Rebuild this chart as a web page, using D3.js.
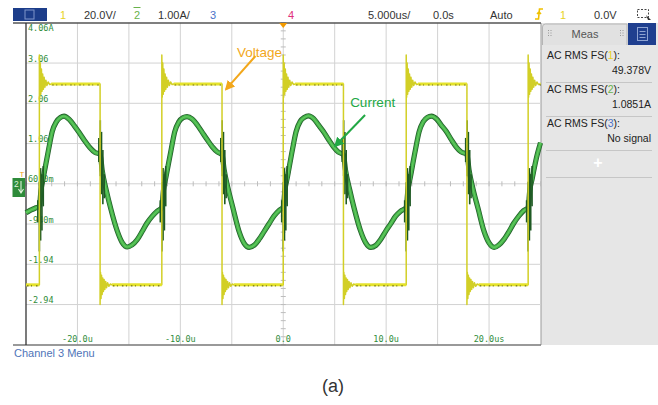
<!DOCTYPE html>
<html>
<head>
<meta charset="utf-8">
<script src="https://cdn.jsdelivr.net/npm/d3@7/dist/d3.min.js"></script>
<style>
  html, body { margin: 0; padding: 0; background: #fff; }
  svg { display: block; }
  text { font-family: "Liberation Sans", Arial, sans-serif; }
  .mono { font-family: "DejaVu Sans Mono", monospace; }
</style>
</head>
<body>
<svg id="scope" width="658" height="405"></svg>
<script>
// ---- scope settings and readouts ----
const timeGrid = [-25, -20, -15, -10, -5, 0, 5, 10, 15, 20, 25];          // µs, 5 µs/div
const timeTicks = [-20, -10, 0, 10, 20];
const timeLabels = ["-20.0u", "-10.0u", "0.0", "10.0u", "20.0us"];
const currentGrid = [-3.94, -2.94, -1.94, -0.94, 0.06, 1.06, 2.06, 3.06, 4.06]; // A, 1 A/div
const currentTicks = [4.06, 3.06, 2.06, 1.06, 0.06, -0.94, -1.94, -2.94];
const currentLabels = ["4.06A", "3.06", "2.06", "1.06", "60.0m", "-940m", "-1.94", "-2.94"];

const measNames = ["AC RMS FS(", "AC RMS FS(", "AC RMS FS("];
const measChannels = ["1", "2", "3"];
const measValues = ["49.378V", "1.0851A", "No signal"];

// ---- channel 1: voltage (V) ----
const risingEdges = [-23.7, -11.8, 0.0, 11.95, 23.8];
const fallingEdges = [-17.8, -5.95, 5.85, 17.85];
const voltageHigh = 49.6;
const voltageLow = -50.2;
// ringing after each edge: [µs after edge, V]
const riseRinging = [[0, 64], [0.04, 43], [0.09, 60], [0.14, 44.5], [0.2, 57], [0.26, 46], [0.32, 54.5],
  [0.39, 47], [0.46, 53], [0.54, 48], [0.63, 51.5], [0.73, 48.8], [0.85, 50.6], [1.0, 49.3], [1.15, 49.6]];
const fallRinging = [[0, -60], [0.04, -44], [0.09, -57], [0.14, -45.5], [0.2, -55], [0.26, -46.8], [0.32, -53.5],
  [0.39, -47.6], [0.46, -52.5], [0.54, -48.5], [0.63, -51.6], [0.73, -49.2], [0.85, -50.9], [1.0, -49.8], [1.15, -50.2]];

// ---- channel 2: current (A) ----
const currentTrace = [
  [-25.0, -0.66], [-24.6, -0.6], [-24.15, -0.55], [-23.7, -0.49],
  [-23.55, -0.12], [-23.3, 0.24], [-22.8, 0.92], [-22.45, 1.36], [-22.05, 1.6], [-21.65, 1.71], [-21.3, 1.74],
  [-20.8, 1.66], [-20.3, 1.5], [-19.8, 1.32], [-19.3, 1.13], [-18.8, 0.96], [-18.3, 0.84], [-17.8, 0.8],
  [-17.6, 0.4], [-17.2, -0.1], [-16.75, -0.57], [-16.15, -1.1], [-15.65, -1.4], [-15.15, -1.51], [-14.7, -1.46],
  [-14.2, -1.33], [-13.7, -1.12], [-13.25, -0.92], [-12.75, -0.75], [-12.25, -0.62], [-11.8, -0.53],
  [-11.65, -0.12], [-11.4, 0.23], [-10.9, 0.9], [-10.55, 1.35], [-10.15, 1.6], [-9.75, 1.7], [-9.35, 1.73],
  [-8.85, 1.67], [-8.35, 1.52], [-7.9, 1.35], [-7.4, 1.16], [-6.9, 0.98], [-6.4, 0.85], [-5.95, 0.79],
  [-5.75, 0.42], [-5.35, -0.07], [-4.85, -0.58], [-4.3, -1.12], [-3.8, -1.42], [-3.3, -1.52], [-2.8, -1.46],
  [-2.35, -1.32], [-1.85, -1.12], [-1.35, -0.92], [-0.9, -0.74], [-0.4, -0.6], [0.0, -0.52],
  [0.15, -0.12], [0.4, 0.22], [0.9, 0.92], [1.25, 1.36], [1.65, 1.61], [2.05, 1.71], [2.45, 1.75],
  [2.95, 1.68], [3.4, 1.53], [3.9, 1.36], [4.4, 1.16], [4.85, 0.99], [5.35, 0.85], [5.85, 0.78],
  [6.05, 0.4], [6.45, -0.08], [6.9, -0.56], [7.5, -1.1], [8.0, -1.4], [8.5, -1.52], [9.0, -1.47],
  [9.45, -1.33], [9.95, -1.12], [10.45, -0.93], [10.9, -0.75], [11.4, -0.62], [11.95, -0.53],
  [12.1, -0.13], [12.35, 0.22], [12.85, 0.91], [13.2, 1.35], [13.6, 1.6], [14.0, 1.71], [14.4, 1.74],
  [14.9, 1.67], [15.35, 1.52], [15.85, 1.36], [16.35, 1.15], [16.8, 0.98], [17.3, 0.85], [17.85, 0.79],
  [18.05, 0.41], [18.45, -0.08], [18.95, -0.57], [19.5, -1.11], [20.0, -1.41], [20.5, -1.52], [20.95, -1.46],
  [21.45, -1.32], [21.95, -1.12], [22.4, -0.92], [22.9, -0.74], [23.35, -0.61], [23.8, -0.53],
  [23.95, -0.12], [24.2, 0.2], [24.6, 0.7], [25.0, 1.08]
];
// switching spikes on the current: [µs from edge, low A, high A]
const riseSpikes = [[-0.15, -0.9, -0.35], [0.0, -1.62, 0.1], [0.12, -1.35, 0.45], [0.25, -1.1, 0.3], [0.38, -0.5, 0.5]];
const fallSpikes = [[-0.12, 0.6, 1.2], [0.02, 0.25, 1.64], [0.14, -0.2, 1.35], [0.27, -0.45, 0.9], [0.4, -0.3, 0.3]];

// ---- layout ----
const svg = d3.select("#scope");
const plot = { left: 26, right: 540.5, top: 22.8, bottom: 344.8 };
const x = d3.scaleLinear().domain([-25, 25]).range([plot.left, plot.right]);
const yI = d3.scaleLinear().domain([-3.94, 4.06]).range([plot.bottom, plot.top]);
const yV = d3.scaleLinear().domain([-80, 80]).range([plot.bottom, plot.top]);

// top status bar
svg.append("rect").attr("x", 13).attr("y", 8).attr("width", 34).attr("height", 13).attr("fill", "#1c3d8a");
svg.append("rect").attr("x", 25).attr("y", 10).attr("width", 9).attr("height", 9).attr("fill", "none")
  .attr("stroke", "#7f95c9").attr("stroke-width", 1);
const topItems = [
  { t: "1", x: 60, c: "#e8d21c" }, { t: "20.0V/", x: 84, c: "#333" },
  { t: "2", x: 134, c: "#69b24a" }, { t: "1.00A/", x: 158, c: "#333" },
  { t: "3", x: 210, c: "#4a72c8" }, { t: "4", x: 288, c: "#e0307a" },
  { t: "5.000us/", x: 368, c: "#333" }, { t: "0.0s", x: 433, c: "#333" },
  { t: "Auto", x: 490, c: "#333" }, { t: "1", x: 560, c: "#e8d21c" }, { t: "0.0V", x: 594, c: "#333" }
];
svg.selectAll("text.top").data(topItems).join("text").attr("class", "top")
  .attr("x", d => d.x).attr("y", 19).attr("font-size", 11).attr("fill", d => d.c).text(d => d.t);
svg.append("line").attr("x1", 133.5).attr("x2", 140.5).attr("y1", 7.5).attr("y2", 7.5)
  .attr("stroke", "#69b24a").attr("stroke-width", 1);
// trigger slope symbol
svg.append("path").attr("d", "M535,19 L538.5,19 L539.5,9 L543,9 M537,14 L539,12 L541,14")
  .attr("fill", "none").attr("stroke", "#f0c000").attr("stroke-width", 1.6);
// zoom-box icon
svg.append("rect").attr("x", 637.5).attr("y", 9.5).attr("width", 11).attr("height", 8)
  .attr("fill", "none").attr("stroke", "#444").attr("stroke-dasharray", "2,1.5");
svg.append("path").attr("d", "M646,15 L651,20 L648,20 Z").attr("fill", "#333");

// right measurement panel
svg.append("rect").attr("x", 541).attr("y", 23).attr("width", 117).attr("height", 322).attr("fill", "#e6e6e6");
svg.append("path").attr("d", "M542.5,45 L542.5,27 Q542.5,24 545.5,24 L627,24 L627,45")
  .attr("fill", "#e1e1e1").attr("stroke", "#b5b5b5");
svg.append("text").attr("x", 585).attr("y", 38).attr("text-anchor", "middle").attr("font-size", 11)
  .attr("fill", "#555").text("Meas");
[548, 620].forEach(gx => {
  [[0, 0], [2.5, 0], [0, 2.5], [2.5, 2.5], [0, 5], [2.5, 5]].forEach(o => {
    svg.append("rect").attr("x", gx + o[0]).attr("y", 30 + o[1]).attr("width", 1).attr("height", 1).attr("fill", "#999");
  });
});
svg.append("rect").attr("x", 628).attr("y", 23).attr("width", 28).attr("height", 22).attr("fill", "#1f3f8f");
svg.append("rect").attr("x", 637.5).attr("y", 27.5).attr("width", 10).attr("height", 13).attr("fill", "none")
  .attr("stroke", "#8ea3d2");
[31, 34, 37].forEach(ly => svg.append("line").attr("x1", 639.5).attr("x2", 645.5).attr("y1", ly + 0.5).attr("y2", ly + 0.5)
  .attr("stroke", "#8ea3d2"));

const measColors = ["#e8d21c", "#69b24a", "#4a72c8"];
measNames.forEach((name, i) => {
  const top = 59 + i * 34;
  const t = svg.append("text").attr("x", 547).attr("y", top).attr("font-size", 10.5).attr("fill", "#222");
  t.append("tspan").text(name);
  t.append("tspan").attr("fill", measColors[i]).text(measChannels[i]);
  t.append("tspan").text("):");
  svg.append("text").attr("x", 651).attr("y", top + 15).attr("text-anchor", "end").attr("font-size", 10.5)
    .attr("fill", "#222").text(measValues[i]);
  svg.append("line").attr("x1", 546).attr("x2", 652).attr("y1", top + 23.5).attr("y2", top + 23.5)
    .attr("stroke", "#c6c6c6");
});
svg.append("text").attr("x", 598).attr("y", 168).attr("text-anchor", "middle").attr("font-size", 16)
  .attr("font-weight", "bold").attr("fill", "#fff").text("+");
svg.append("line").attr("x1", 546).attr("x2", 652).attr("y1", 177.5).attr("y2", 177.5).attr("stroke", "#c6c6c6");
svg.append("line").attr("x1", 541).attr("x2", 541).attr("y1", 23).attr("y2", 345).attr("stroke", "#9a9a9a");

// graticule
const g = svg.append("g");
g.selectAll("line.vg").data(timeGrid.slice(1, -1)).join("line").attr("class", "vg")
  .attr("x1", d => x(d)).attr("x2", d => x(d)).attr("y1", plot.top).attr("y2", plot.bottom)
  .attr("stroke", "#d2d2d2").attr("stroke-width", 1);
g.selectAll("line.hg").data(currentGrid.slice(1, -1)).join("line").attr("class", "hg")
  .attr("x1", plot.left).attr("x2", plot.right).attr("y1", d => yI(d)).attr("y2", d => yI(d))
  .attr("stroke", "#d2d2d2").attr("stroke-width", 1);
// minor ticks on the centre cross
const minorT = d3.range(-25, 25.001, 1.25);
g.selectAll("line.mt").data(minorT).join("line").attr("class", "mt")
  .attr("x1", d => x(d)).attr("x2", d => x(d)).attr("y1", yI(0.06) - 2.5).attr("y2", yI(0.06) + 2.5)
  .attr("stroke", "#bdbdbd");
const minorI = d3.range(-3.94, 4.061, 0.2);
g.selectAll("line.mi").data(minorI).join("line").attr("class", "mi")
  .attr("x1", x(0) - 2.5).attr("x2", x(0) + 2.5).attr("y1", d => yI(d)).attr("y2", d => yI(d))
  .attr("stroke", "#bdbdbd");

// axis readouts
g.selectAll("text.yl").data(currentTicks).join("text").attr("class", "yl mono")
  .attr("x", 28).attr("y", (d, i) => i === 0 ? yI(d) + 8.5 : yI(d) - 1.5)
  .attr("font-size", 8.5).attr("fill", "#2f8c3a").text((d, i) => currentLabels[i]);
g.selectAll("text.xl").data(timeTicks).join("text").attr("class", "xl mono")
  .attr("x", d => x(d)).attr("y", 341.5).attr("text-anchor", "middle")
  .attr("font-size", 8.5).attr("fill", "#2f8c3a").text((d, i) => timeLabels[i]);

// frame
svg.append("line").attr("x1", 13).attr("x2", 541).attr("y1", 23).attr("y2", 23).attr("stroke", "#555").attr("stroke-width", 1.3);
svg.append("line").attr("x1", 13).attr("x2", 541).attr("y1", 345).attr("y2", 345).attr("stroke", "#777").attr("stroke-width", 1.3);
svg.append("line").attr("x1", 26).attr("x2", 26).attr("y1", 23).attr("y2", 345).attr("stroke", "#333").attr("stroke-width", 1.3);

// trigger position and level markers
svg.append("path").attr("d", `M${x(0) - 4},23 L${x(0) + 4},23 L${x(0)},28 Z`).attr("fill", "#f29a00");
svg.append("text").attr("x", 19.5).attr("y", 177).attr("font-size", 8).attr("fill", "#f0a020").text("T");
svg.append("rect").attr("x", 12.5).attr("y", 178).attr("width", 12.5).attr("height", 19).attr("fill", "#2e8b3a");
svg.append("text").attr("x", 14).attr("y", 187).attr("font-size", 8.5).attr("fill", "#dff2da").text("2");
svg.append("path").attr("d", "M21,181 L21,192 M18.5,189 L21,193 L23.5,189").attr("fill", "none")
  .attr("stroke", "#dff2da").attr("stroke-width", 1.1);

// ---- traces ----
const traces = svg.append("g");
const line = d3.line().x(d => x(d[0])).y(d => yI(d[1])).curve(d3.curveMonotoneX);
traces.append("path").datum(currentTrace).attr("d", line).attr("fill", "none")
  .attr("stroke", "#24602a").attr("stroke-width", 5.2).attr("stroke-linejoin", "round");
traces.append("path").datum(currentTrace).attr("d", line).attr("fill", "none")
  .attr("stroke", "#45b34b").attr("stroke-width", 3.6).attr("stroke-linejoin", "round");
traces.append("path").datum(currentTrace).attr("d", line).attr("fill", "none")
  .attr("stroke", "#62c95d").attr("stroke-width", 1.2);

const spikes = [];
risingEdges.forEach(e => riseSpikes.forEach(s => spikes.push([e + s[0], s[1], s[2]])));
fallingEdges.forEach(e => fallSpikes.forEach(s => spikes.push([e + s[0], s[1], s[2]])));
traces.selectAll("line.sp").data(spikes.filter(s => s[0] >= -25 && s[0] <= 25)).join("line").attr("class", "sp")
  .attr("x1", d => x(d[0])).attr("x2", d => x(d[0])).attr("y1", d => yI(d[1])).attr("y2", d => yI(d[2]))
  .attr("stroke", "#1f5a24").attr("stroke-width", 1.6);

// voltage: edges, ringing and flat levels
const edges = risingEdges.map(t => ({ t, up: true })).concat(fallingEdges.map(t => ({ t, up: false })))
  .sort((a, b) => a.t - b.t);
const vPts = [[-25, voltageLow]];
const levelSegs = [];
let segStart = -25, level = voltageLow;
edges.forEach(e => {
  levelSegs.push([segStart, e.t, level]);
  vPts.push([e.t, level]);
  const ring = e.up ? riseRinging : fallRinging;
  ring.forEach(r => vPts.push([e.t + r[0], r[1]]));
  level = e.up ? voltageHigh : voltageLow;
  segStart = e.t + ring[ring.length - 1][0];
});
levelSegs.push([segStart, 25, level]);
vPts.push([25, level]);
const vClip = vPts.filter(d => d[0] <= 25);
const vLine = d3.line().x(d => x(d[0])).y(d => yV(d[1]));
traces.append("path").datum(vClip).attr("d", vLine).attr("fill", "none")
  .attr("stroke", "#d2cf26").attr("stroke-width", 1.5).attr("stroke-linejoin", "round");
traces.selectAll("line.lv").data(levelSegs).join("line").attr("class", "lv")
  .attr("x1", d => x(d[0])).attr("x2", d => x(d[1])).attr("y1", d => yV(d[2])).attr("y2", d => yV(d[2]))
  .attr("stroke", "#e4e22c").attr("stroke-width", 3);
traces.selectAll("line.lvd").data(levelSegs).join("line").attr("class", "lvd")
  .attr("x1", d => x(d[0]) + 1).attr("x2", d => x(d[1]) - 1).attr("y1", d => yV(d[2]) + 1).attr("y2", d => yV(d[2]) + 1)
  .attr("stroke", "#3a3a10").attr("stroke-width", 1.1).attr("stroke-dasharray", "1.5,2.5,1,4").attr("opacity", 0.7);

// ---- annotations ----
const ann = svg.append("g");
ann.append("defs").html(
  '<marker id="ahV" viewBox="0 0 10 10" refX="8" refY="5" markerWidth="5" markerHeight="5" orient="auto"><path d="M0,0 L10,5 L0,10 Z" fill="#f2a71b"/></marker>' +
  '<marker id="ahI" viewBox="0 0 10 10" refX="8" refY="5" markerWidth="5" markerHeight="5" orient="auto"><path d="M0,0 L10,5 L0,10 Z" fill="#22a845"/></marker>');
ann.append("text").attr("x", x(-4.5)).attr("y", yV(63)).attr("font-size", 13.5).attr("fill", "#f2a71b").text("Voltage");
ann.append("line").attr("x1", x(-2.7)).attr("y1", yV(63.5)).attr("x2", x(-5.55)).attr("y2", yV(47))
  .attr("stroke", "#f2a71b").attr("stroke-width", 2).attr("marker-end", "url(#ahV)");
ann.append("text").attr("x", x(6.5)).attr("y", yI(1.98)).attr("font-size", 13.5).attr("fill", "#22a845").text("Current");
ann.append("line").attr("x1", x(7.95)).attr("y1", yI(1.77)).attr("x2", x(5.05)).attr("y2", yI(1.0))
  .attr("stroke", "#22a845").attr("stroke-width", 2).attr("marker-end", "url(#ahI)");

// footer
svg.append("text").attr("x", 14).attr("y", 357).attr("font-size", 11).attr("fill", "#4f74b8").text("Channel 3 Menu");
svg.append("text").attr("x", 333).attr("y", 392).attr("text-anchor", "middle").attr("font-size", 18)
  .attr("fill", "#333").text("(a)");
</script>
</body>
</html>
